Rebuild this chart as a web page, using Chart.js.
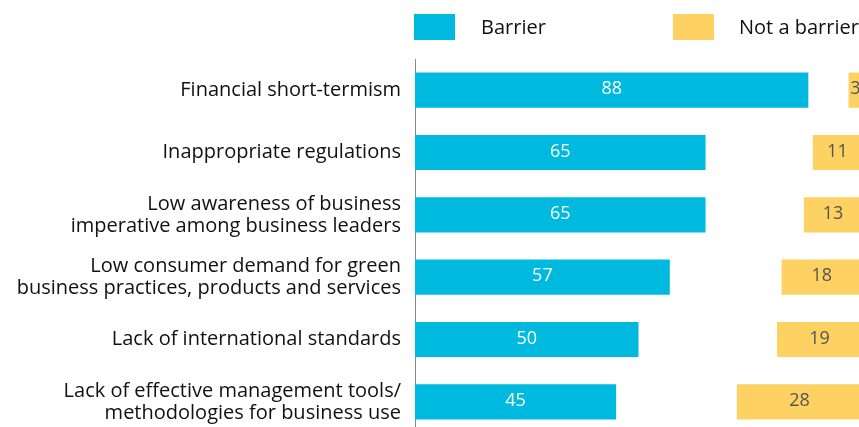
<!DOCTYPE html>
<html>
<head>
<meta charset="utf-8">
<script src="https://cdn.jsdelivr.net/npm/chart.js@4"></script>
<style>
  html, body { margin: 0; padding: 0; background: #fff; overflow: hidden; width: 859px; height: 427px; }
  #wrap { position: relative; width: 862px; height: 434px; }
  .legend { position: absolute; top: 14px; font-family: "Open Sans", sans-serif; font-size: 20px; color: #111; }
  .legend .sw { position: absolute; top: 0; width: 41px; height: 26px; }
  .legend .lbl { position: absolute; top: 0; line-height: 26px; white-space: nowrap; }
</style>
</head>
<body>
<div id="wrap">
  <div class="legend">
    <span class="sw" style="left:414px;background:#00B9DF"></span>
    <span class="lbl" style="left:481px">Barrier</span>
    <span class="sw" style="left:673px;background:#FDD162"></span>
    <span class="lbl" style="left:739px">Not a barrier</span>
  </div>
  <canvas id="chart" width="862" height="434"></canvas>
</div>
<script>
// Survey answers, percent of respondents
const categories = [
    ["Financial short-termism"],
    ["Inappropriate regulations"],
    ["Low awareness of business", "imperative among business leaders"],
    ["Low consumer demand for green", "business practices, products and services"],
    ["Lack of international standards"],
    ["Lack of effective management tools/", "methodologies for business use"]
];
const barrier    = [88, 65, 65, 57, 50, 45];
const notBarrier = [3, 11, 13, 18, 19, 28];

const BLUE = "#00B9DF";
const YELLOW = "#FDD162";

// writes the value in the middle of each bar
const valueLabels = {
    id: "valueLabels",
    afterDatasetsDraw(chart) {
        const ctx = chart.ctx;
        ctx.save();
        ctx.font = "18px 'Open Sans', sans-serif";
        ctx.textAlign = "center";
        ctx.textBaseline = "middle";
        chart.data.datasets.forEach((ds, i) => {
            const meta = chart.getDatasetMeta(i);
            ctx.fillStyle = i === 0 ? "#ffffff" : "#555555";
            meta.data.forEach((bar, j) => {
                ctx.fillText(ds.data[j], (bar.x + bar.base) / 2, bar.y - 1);
            });
        });
        ctx.restore();
    }
};

new Chart(document.getElementById("chart"), {
    type: "bar",
    data: {
        labels: categories,
        datasets: [
            {
                label: "Barrier",
                data: barrier,
                backgroundColor: BLUE,
                xAxisID: "x",
                grouped: false,
                categoryPercentage: 1,
                barPercentage: 0.565
            },
            {
                label: "Not a barrier",
                data: notBarrier,
                backgroundColor: YELLOW,
                xAxisID: "x2",
                grouped: false,
                categoryPercentage: 1,
                barPercentage: 0.565
            }
        ]
    },
    options: {
        indexAxis: "y",
        responsive: false,
        animation: false,
        layout: { padding: { top: 59, bottom: 1, right: 0, left: 0 } },
        plugins: {
            legend: { display: false },
            tooltip: { enabled: false }
        },
        scales: {
            x:  { min: 0, max: 100, display: false },
            x2: { min: 0, max: 100, reverse: true, display: false },
            y: {
                grid: { display: false },
                border: { display: true, color: "#8a8a8a", width: 1 },
                afterFit: s => {
                    s.width = 415;
                    s.paddingTop = 0;
                    s.paddingBottom = 0;
                },
                ticks: {
                    color: "#111",
                    padding: 6,
                    font: { family: "'Open Sans', sans-serif", size: 20, lineHeight: 1.1 }
                }
            }
        }
    },
    plugins: [valueLabels]
});
</script>
</body>
</html>
